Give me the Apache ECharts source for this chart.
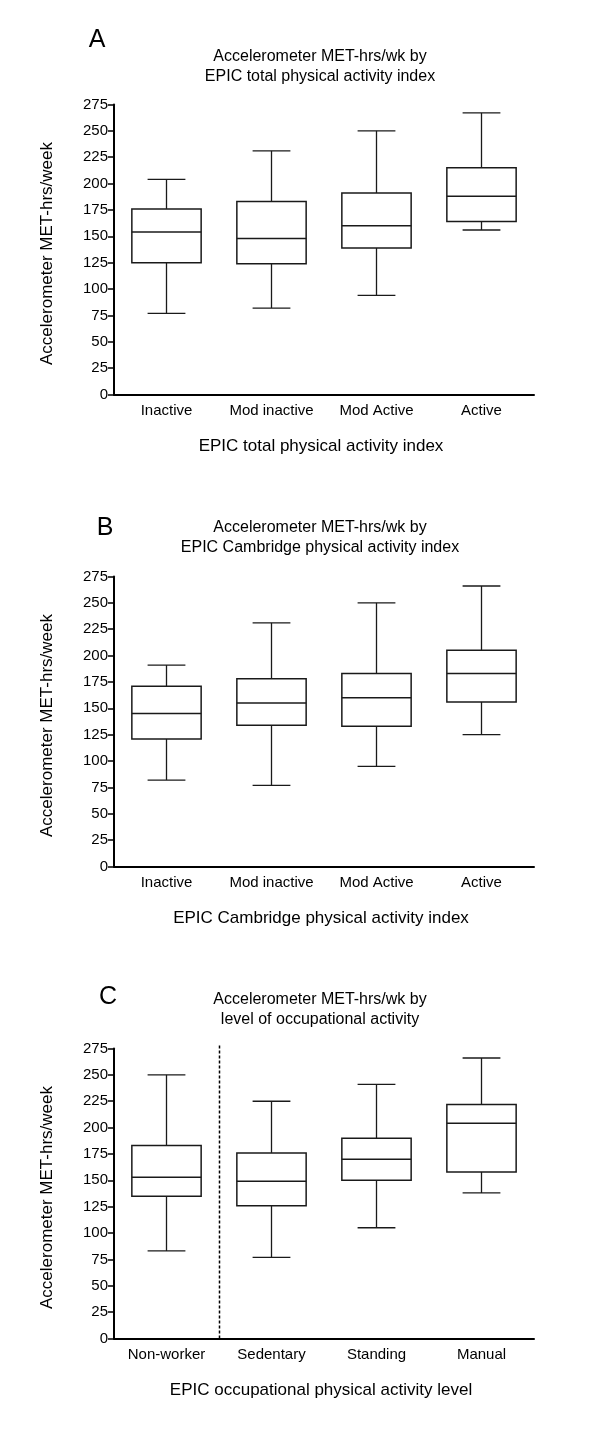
<!DOCTYPE html>
<html>
<head>
<meta charset="utf-8">
<script src="https://cdn.jsdelivr.net/npm/echarts@6/dist/echarts.min.js"></script>
<style>
html,body{margin:0;padding:0;background:#fff;}
#chart{width:600px;height:1437px;}
</style>
</head>
<body>
<div id="chart"></div>
<script>
// ---- Data ----
const yTicks = [0, 25, 50, 75, 100, 125, 150, 175, 200, 225, 250, 275];

const catsA = ['Inactive', 'Mod inactive', 'Mod Active', 'Active'];
// [min, Q1, median, Q3, max]
const boxesA = [
  [77, 125, 154, 176, 204],
  [82, 124, 148, 183, 231],
  [94, 139, 160, 191, 250],
  [156, 164, 188, 215, 267]
];

const catsB = ['Inactive', 'Mod inactive', 'Mod Active', 'Active'];
const boxesB = [
  [82, 121, 145, 171, 191],
  [77, 134, 155, 178, 231],
  [95, 133, 160, 183, 250],
  [125, 156, 183, 205, 266]
];

const catsC = ['Non-worker', 'Sedentary', 'Standing', 'Manual'];
const boxesC = [
  [83, 135, 153, 183, 250],
  [77, 126, 149, 176, 225],
  [105, 150, 170, 190, 241],
  [138, 158, 204, 222, 266]
];
// divider between these two categories of panel C (index of left category)
const dividerAfterC = [0];

const panelLetters = ['A', 'B', 'C'];
const titles = [
  'Accelerometer MET-hrs/wk by\nEPIC total physical activity index',
  'Accelerometer MET-hrs/wk by\nEPIC Cambridge physical activity index',
  'Accelerometer MET-hrs/wk by\nlevel of occupational activity'
];
const xNames = [
  'EPIC total physical activity index',
  'EPIC Cambridge physical activity index',
  'EPIC occupational physical activity level'
];
const yName = 'Accelerometer MET-hrs/week';

// ---- Layout ----
const FONT = '"Liberation Sans", Arial, sans-serif';
const gridTops = [104.5, 576.5, 1048.5];
const gridH = 290;
const gridLeft = 114;
const gridW = 420;
const letterPos = [[97, 40], [105, 528], [108, 997]];
const titleTop = [46.5, 518, 990];
const xNameY = [446, 918, 1390];

const chart = echarts.init(document.getElementById('chart'), null, {renderer: 'canvas'});

const allCats = [catsA, catsB, catsC];
const allBoxes = [boxesA, boxesB, boxesC];

const grids = [], xAxes = [], yAxes = [], series = [], graphics = [];

function renderBox(params, api) {
  const i = api.value(0);
  const mn = api.value(1), q1 = api.value(2), md = api.value(3), q3 = api.value(4), mx = api.value(5);
  const band = api.size([1, 0])[0];
  const bw = band * 0.66;
  const cw = band * 0.36;
  const pMin = api.coord([i, mn]), pQ1 = api.coord([i, q1]), pMd = api.coord([i, md]);
  const pQ3 = api.coord([i, q3]), pMx = api.coord([i, mx]);
  const x = pMin[0];
  const st = {stroke: '#1a1a1a', lineWidth: 1.3, fill: null};
  return {
    type: 'group',
    children: [
      {type: 'line', shape: {x1: x, y1: pMx[1], x2: x, y2: pQ3[1]}, style: st},
      {type: 'line', shape: {x1: x, y1: pQ1[1], x2: x, y2: pMin[1]}, style: st},
      {type: 'line', shape: {x1: x - cw / 2, y1: pMx[1], x2: x + cw / 2, y2: pMx[1]}, style: st},
      {type: 'line', shape: {x1: x - cw / 2, y1: pMin[1], x2: x + cw / 2, y2: pMin[1]}, style: st},
      {type: 'rect', shape: {x: x - bw / 2, y: pQ3[1], width: bw, height: pQ1[1] - pQ3[1]},
        style: {stroke: '#1a1a1a', lineWidth: 1.5, fill: '#fff'}},
      {type: 'line', shape: {x1: x - bw / 2, y1: pMd[1], x2: x + bw / 2, y2: pMd[1]}, style: {stroke: '#1a1a1a', lineWidth: 1.5}}
    ]
  };
}

function renderDivider(params, api) {
  const i = api.value(0);
  const band = api.size([1, 0])[0];
  const p0 = api.coord([i, 0]);
  const pTop = api.coord([i, 275]);
  const x = Math.round(p0[0] + band / 2) + 0.5;
  return {
    type: 'line',
    shape: {x1: x, y1: pTop[1] - 3, x2: x, y2: p0[1]},
    style: {stroke: '#000', lineWidth: 1.5, lineDash: [3, 2]}
  };
}

for (let p = 0; p < 3; p++) {
  grids.push({left: gridLeft, top: gridTops[p], width: gridW, height: gridH, containLabel: false});
  xAxes.push({
    type: 'category', gridIndex: p, data: allCats[p], boundaryGap: true,
    axisLine: {lineStyle: {color: '#000', width: 2}},
    axisTick: {alignWithLabel: true, length: 6, lineStyle: {color: '#000', width: 1.5}},
    axisLabel: {color: '#000', fontSize: 15, fontFamily: FONT, margin: 9, interval: 0},
    splitLine: {show: false}
  });
  yAxes.push({
    type: 'value', gridIndex: p, min: 0, max: 275, interval: 25,
    axisLine: {show: true, onZero: false, lineStyle: {color: '#000', width: 2}},
    axisTick: {show: true, length: 6, lineStyle: {color: '#000', width: 1.5}},
    axisLabel: {color: '#000', fontSize: 15, fontFamily: FONT, margin: 6,
      formatter: function (v) { return yTicks.indexOf(v) >= 0 ? String(v) : ''; }},
    splitLine: {show: false}
  });
  if (p === 2) {
    series.push({
      type: 'custom', xAxisIndex: p, yAxisIndex: p,
      renderItem: renderDivider,
      data: dividerAfterC.map(i => [i]),
      clip: false, z: 1
    });
  }
  series.push({
    type: 'custom', xAxisIndex: p, yAxisIndex: p,
    renderItem: renderBox,
    encode: {x: 0, y: [1, 2, 3, 4, 5]},
    data: allBoxes[p].map((b, i) => [i].concat(b)),
    clip: false, z: 2
  });
  graphics.push({
    type: 'text', x: letterPos[p][0], y: letterPos[p][1],
    style: {text: panelLetters[p], fontSize: 25, fontFamily: FONT, fill: '#000',
      textAlign: 'center', textVerticalAlign: 'middle'}
  });
  graphics.push({
    type: 'text', x: 320, y: titleTop[p],
    style: {text: titles[p], fontSize: 16, lineHeight: 20, fontFamily: FONT, fill: '#000',
      textAlign: 'center', textVerticalAlign: 'top'}
  });
  graphics.push({
    type: 'text', x: 321, y: xNameY[p],
    style: {text: xNames[p], fontSize: 17, fontFamily: FONT, fill: '#000',
      textAlign: 'center', textVerticalAlign: 'middle'}
  });
  graphics.push({
    type: 'text', x: 47, y: gridTops[p] + gridH / 2 + 4, rotation: Math.PI / 2,
    style: {text: yName, fontSize: 17, fontFamily: FONT, fill: '#000',
      textAlign: 'center', textVerticalAlign: 'middle'}
  });
}

chart.setOption({
  animation: false,
  backgroundColor: '#fff',
  grid: grids,
  xAxis: xAxes,
  yAxis: yAxes,
  series: series,
  graphic: graphics
});
</script>
</body>
</html>
